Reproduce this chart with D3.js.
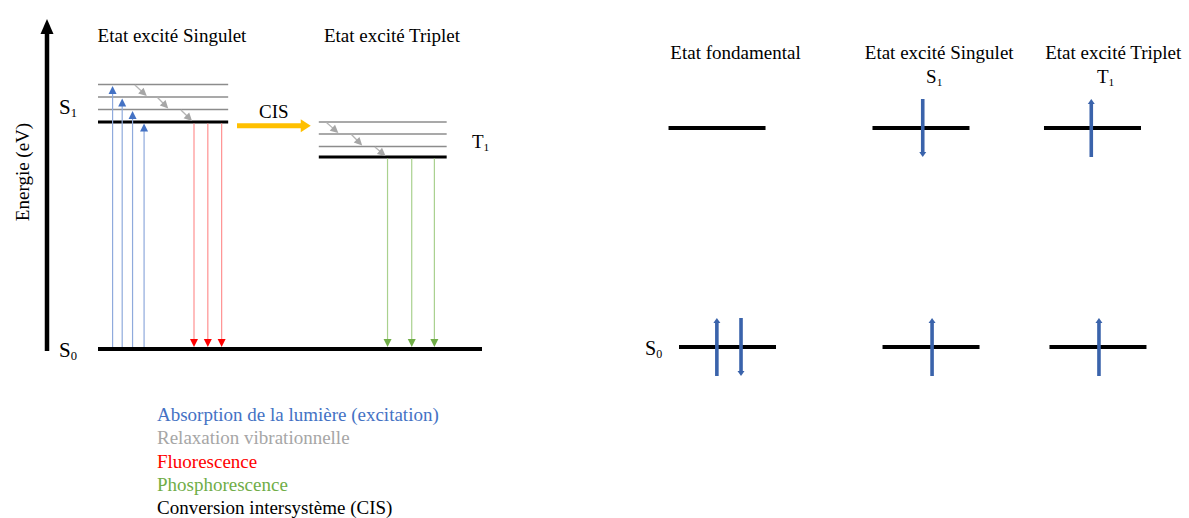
<!DOCTYPE html>
<html>
<head>
<meta charset="utf-8">
<script src="https://cdn.jsdelivr.net/npm/d3@7"></script>
<style>
  body { margin: 0; background: #fff; }
  svg { display: block; }
</style>
</head>
<body>
<svg id="chart" width="1189" height="518"></svg>
<script>
const FONT = '"Liberation Serif"'

// --- left panel : Jablonski diagram (energies in eV, arbitrary) ---
const leftTitles = ['Etat excité Singulet', 'Etat excité Triplet']
const s0Level = 0
const s1Levels = [2.27, 2.395, 2.52, 2.645]     // v=0 first
const t1Levels = [1.92, 2.025, 2.15, 2.27]
const s1Span = [0, 3.39]
const t1Span = [5.75, 9.08]
const s0Span = [0, 10]
const absorptionX = [0.38, 0.63, 0.9, 1.2]
const absorptionTo = [3, 2, 1, 0]
const fluorescenceX = [2.5, 2.86, 3.22]
const phosphorescenceX = [7.54, 8.17, 8.76]
const relaxS1X = [[0.96, 1.27], [1.55, 1.83], [2.16, 2.45]]
const relaxT1X = [[5.95, 6.26], [6.6, 6.88], [7.21, 7.49]]
const cisX = [3.62, 5.54]
const cisEnergy = 2.233

const legendLabels = ['Absorption de la lumière (excitation)', 'Relaxation vibrationnelle',
    'Fluorescence', 'Phosphorescence', 'Conversion intersystème (CIS)']
const legendColors = ['#4472c4', '#a6a6a6', '#ff0000', '#70ad47', '#000000']

// --- right panel : electron spins ---
const orbitalTitles = ['Etat fondamental', 'Etat excité Singulet', 'Etat excité Triplet']
const titleX = [17.4, 54.5, 86.2]
const excitedLabels = [null, 'S', 'T']
const excitedLabelX = [null, 53.6, 84.8]
const upperLevelX = [14.03, 51.18, 82.42]
const lowerLevelX = [15.94, 53.01, 83.42]
const upperSpins = [[], [{x: 51.5, dir: -1}], [{x: 82.2, dir: 1}]]
const lowerSpins = [[{x: 14.0, dir: 1}, {x: 18.4, dir: -1}], [{x: 53.2, dir: 1}], [{x: 83.6, dir: 1}]]

const svg = d3.select('#chart')
const y = d3.scaleLinear().domain([0, 3.3]).range([349, 19])
const xL = d3.scaleLinear().domain([0, 10]).range([98, 482])
const xR = d3.scaleLinear().domain([0, 100]).range([640, 1189])
const yR = d3.scaleLinear().domain([0, 1]).range([347, 128])

function arrow(g, x1, y1, x2, y2, color, w, headLen, headW, headColor) {
    const a = Math.atan2(y2 - y1, x2 - x1)
    const bx = x2 - headLen * Math.cos(a)
    const by = y2 - headLen * Math.sin(a)
    g.append('line')
        .attr('x1', x1).attr('y1', y1)
        .attr('x2', bx + Math.cos(a)).attr('y2', by + Math.sin(a))
        .attr('stroke', color)
        .attr('stroke-width', w)
    const px = -Math.sin(a) * headW / 2
    const py = Math.cos(a) * headW / 2
    g.append('path')
        .attr('d', `M${x2},${y2}L${bx + px},${by + py}L${bx - px},${by - py}Z`)
        .attr('fill', headColor || color)
}

const texts = []
function label(g, x, yy, size) {
    const t = g.append('text')
        .attr('x', x).attr('y', yy)
        .attr('font-size', size)
        .style('font-family', FONT)
    texts.push(t)
    return t
}

function subLabel(g, x, yy, main, sub, size, anchor) {
    const t = label(g, x, yy, size).attr('text-anchor', anchor || 'start')
    t.append('tspan').text(main)
    t.append('tspan').attr('font-size', size * 0.6).attr('dy', 3).text(sub)
}

const left = svg.append('g')

// energy axis
arrow(left, 47, 351, 47, 19, '#000', 4.5, 15, 13)
label(left, 0, 0, 19)
    .attr('transform', 'translate(29,172) rotate(-90)')
    .attr('text-anchor', 'middle')
    .text('Energie (eV)')

leftTitles.forEach((d, i) => {
    label(left, i === 0 ? 172 : 392, 42, 19)
        .attr('text-anchor', 'middle')
        .text(d)
})

// vibrational levels
function levels(data, span) {
    left.selectAll(null)
        .data(data)
        .enter()
        .append('line')
        .attr('x1', xL(span[0]))
        .attr('x2', xL(span[1]))
        .attr('y1', d => y(d))
        .attr('y2', d => y(d))
        .attr('stroke', (d, i) => i === 0 ? '#000' : '#8c8c8c')
        .attr('stroke-width', (d, i) => i === 0 ? 3 : 1.3)
}
levels(s1Levels, s1Span)
levels(t1Levels, t1Span)

left.append('line')
    .attr('x1', xL(s0Span[0])).attr('x2', xL(s0Span[1]))
    .attr('y1', y(s0Level)).attr('y2', y(s0Level))
    .attr('stroke', '#000')
    .attr('stroke-width', 4)

subLabel(left, 59, 114, 'S', '1', 21)
subLabel(left, 59, 357, 'S', '0', 21)
subLabel(left, 472, 148, 'T', '1', 19)

// absorption
absorptionX.forEach((xv, i) => {
    arrow(left, xL(xv), y(s0Level) - 2, xL(xv), y(s1Levels[absorptionTo[i]]) + 1.5, '#8faadc', 1.2, 8, 8, '#4472c4')
})
// fluorescence
fluorescenceX.forEach(xv => {
    arrow(left, xL(xv), y(s1Levels[0]) + 1.5, xL(xv), y(s0Level) - 2, '#ff9191', 1.2, 8, 8, '#ff0000')
})
// phosphorescence
phosphorescenceX.forEach(xv => {
    arrow(left, xL(xv), y(t1Levels[0]) + 1.5, xL(xv), y(s0Level) - 2, '#a9d18e', 1.2, 8, 8, '#70ad47')
})
// vibrational relaxation
function relax(xs, lv) {
    xs.forEach((p, i) => {
        const from = lv[lv.length - 1 - i]
        const to = lv[lv.length - 2 - i]
        arrow(left, xL(p[0]), y(from) + 0.5, xL(p[1]), y(to) - 1, '#b4b4b4', 1.3, 8, 8, '#a6a6a6')
    })
}
relax(relaxS1X, s1Levels)
relax(relaxT1X, t1Levels)

// intersystem crossing
arrow(left, xL(cisX[0]), y(cisEnergy), xL(cisX[1]), y(cisEnergy), '#ffc000', 5, 10, 13)
label(left, d3.mean(cisX.map(xL)), y(cisEnergy) - 8, 19)
    .attr('text-anchor', 'middle')
    .text('CIS')

// legend
legendLabels.forEach((d, i) => {
    label(left, 157, 421 + i * 23.3, 19)
        .attr('fill', legendColors[i])
        .text(d)
})

// --- right panel ---
const right = svg.append('g')
orbitalTitles.forEach((d, i) => {
    label(right, xR(titleX[i]), 59, 19)
        .attr('text-anchor', 'middle')
        .text(d)
})

excitedLabels.forEach((l, i) => {
    if (l) subLabel(right, xR(excitedLabelX[i]), 83, l, '1', 19, 'middle')
})
subLabel(right, 645, 355, 'S', '0', 20)

const halfW = 48.5
const spinColor = '#3a63ab'
function orbitalRow(xs, spins, e) {
    xs.forEach((xc, i) => {
        right.append('line')
            .attr('x1', xR(xc) - halfW).attr('x2', xR(xc) + halfW)
            .attr('y1', yR(e)).attr('y2', yR(e))
            .attr('stroke', '#000')
            .attr('stroke-width', 4)
        spins[i].forEach(s => {
            const y0 = yR(e) + 29 * s.dir
            const y1 = yR(e) - 29 * s.dir
            arrow(right, xR(s.x), y0, xR(s.x), y1, spinColor, 3.6, 5, 7)
        })
    })
}
orbitalRow(upperLevelX, upperSpins, 1)
orbitalRow(lowerLevelX, lowerSpins, 0)

// force text layout so the local serif face is used
texts.forEach(t => t.node().getComputedTextLength())
</script>
</body>
</html>
